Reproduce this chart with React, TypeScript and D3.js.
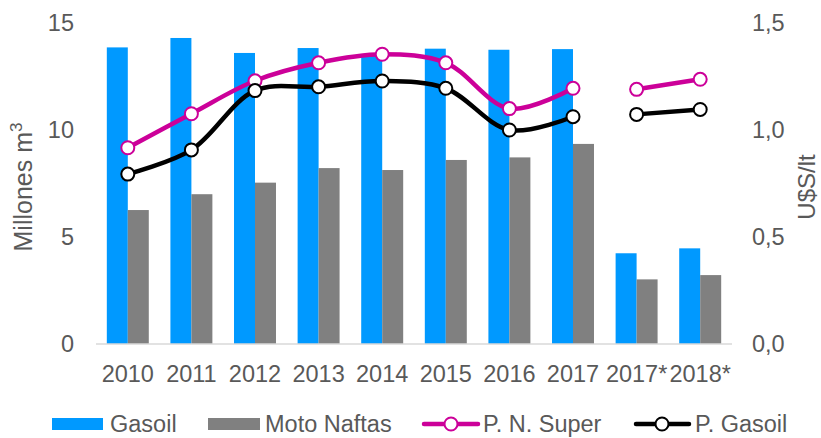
import React from "react";
import * as d3 from "d3";

const categories = ["2010", "2011", "2012", "2013", "2014", "2015", "2016", "2017", "2017*", "2018*"];
const gasoil = [13.86, 14.3, 13.6, 13.83, 13.5, 13.8, 13.75, 13.78, 4.24, 4.47];
const motoNaftas = [6.26, 7.0, 7.54, 8.22, 8.13, 8.6, 8.72, 9.35, 3.02, 3.22];
const pnSuper = [0.917, 1.076, 1.23, 1.314, 1.354, 1.314, 1.1, 1.195, 1.19, 1.237];
const pGasoil = [0.794, 0.907, 1.184, 1.202, 1.229, 1.195, 1.0, 1.062, 1.073, 1.096];
const leftTicks = [0, 5, 10, 15];
const rightTicks = [0, 0.5, 1.0, 1.5];
// segments of the lines (gap between 2017 and 2017*)
const lineSegments = [[0, 8], [8, 10]];

const W = 821, H = 438;
const left = 96, right = 732, top = 23, bottom = 344;
const BLUE = "#0099FF", GRAY = "#808080", MAG = "#CC0099", TXT = "#595959";
const FONT = "'Liberation Sans', Arial, sans-serif";
const FS = 23.5;

export default function App() {
  const x = d3.scaleBand().domain(categories).range([left, right]).paddingInner(0.34).paddingOuter(0.17);
  const yL = d3.scaleLinear().domain([0, 15]).range([bottom, top]);
  const yR = d3.scaleLinear().domain([0, 1.5]).range([bottom, top]);
  const bw = x.bandwidth() / 2;
  const cx = (c: string) => (x(c) as number) + x.bandwidth() / 2;

  const mkPath = (vals: number[], s: number, e: number) => {
    const pts: [number, number][] = [];
    for (let i = s; i < e; i++) pts.push([cx(categories[i]), yR(vals[i])]);
    return d3.line().curve(d3.curveCatmullRom.alpha(0.5))(pts) || "";
  };

  const fmt = (v: number) => v.toFixed(1).replace(".", ",");

  return (
    <svg width={W} height={H} style={{ position: "absolute", left: 0, top: 0, fontFamily: FONT }}>
      <rect width={W} height={H} fill="#fff" />
      {categories.map((c, i) => (
        <g key={c}>
          <rect x={x(c)} y={yL(gasoil[i])} width={bw} height={bottom - yL(gasoil[i])} fill={BLUE} />
          <rect x={(x(c) as number) + bw} y={yL(motoNaftas[i])} width={bw} height={bottom - yL(motoNaftas[i])} fill={GRAY} />
        </g>
      ))}
      <line x1={left} x2={right} y1={bottom} y2={bottom} stroke="#D9D9D9" strokeWidth={1.5} />
      {leftTicks.map((t) => (
        <text key={t} x={74} y={yL(t)} dy="0.35em" textAnchor="end" fontSize={FS} fill={TXT}>{t}</text>
      ))}
      {rightTicks.map((t) => (
        <text key={t} x={752} y={yR(t)} dy="0.35em" textAnchor="start" fontSize={FS} fill={TXT}>{fmt(t)}</text>
      ))}
      {categories.map((c) => (
        <text key={c} x={cx(c)} y={382} textAnchor="middle" fontSize={FS} fill={TXT}>{c}</text>
      ))}
      <text transform="translate(32,187) rotate(-90)" textAnchor="middle" fontSize={25} fill={TXT}>
        Millones m<tspan dy={-10} fontSize={17}>3</tspan>
      </text>
      <text transform="translate(815,187) rotate(-90)" textAnchor="middle" fontSize={24} fill={TXT}>U$S/lt</text>

      {[{ v: pnSuper, c: MAG }, { v: pGasoil, c: "#000" }].map((s, k) => (
        <g key={k}>
          {lineSegments.map(([a, b]) => (
            <path key={a} d={mkPath(s.v, a, b)} fill="none" stroke={s.c} strokeWidth={4.5} strokeLinecap="round" />
          ))}
          {s.v.map((d, i) => (
            <circle key={i} cx={cx(categories[i])} cy={yR(d)} r={6.5} fill="#fff" stroke={s.c} strokeWidth={2} />
          ))}
        </g>
      ))}

      {/* legend */}
      <rect x={52} y={418} width={51} height={12} fill={BLUE} />
      <text x={110} y={432} fontSize={FS} fill={TXT}>Gasoil</text>
      <rect x={208} y={418} width={52} height={12} fill={GRAY} />
      <text x={265} y={432} fontSize={FS} fill={TXT}>Moto Naftas</text>
      <line x1={424} x2={478} y1={424} y2={424} stroke={MAG} strokeWidth={4.5} strokeLinecap="round" />
      <circle cx={451} cy={424} r={6.5} fill="#fff" stroke={MAG} strokeWidth={2} />
      <text x={483} y={432} fontSize={FS} fill={TXT}>P. N. Super</text>
      <line x1={636} x2={689} y1={424} y2={424} stroke="#000" strokeWidth={4.5} strokeLinecap="round" />
      <circle cx={662} cy={424} r={6.5} fill="#fff" stroke="#000" strokeWidth={2} />
      <text x={695} y={432} fontSize={FS} fill={TXT}>P. Gasoil</text>
    </svg>
  );
}
